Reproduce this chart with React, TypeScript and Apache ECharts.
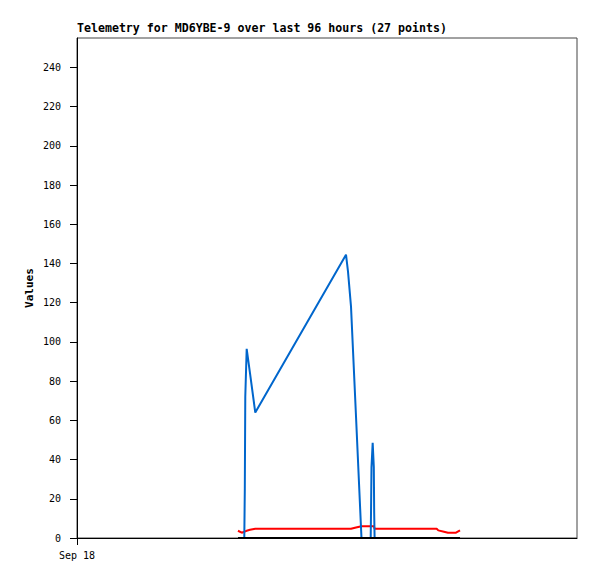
import React, { useEffect, useRef } from "react";
import * as echarts from "echarts";

// time in hours after Sep 18 00:00
const hours = [
  30.91, 31.62, 32.12, 32.22, 32.31, 32.58, 33.22, 34.23, 51.65, 52.03, 52.61, 53.57, 54.62,
  56.39, 56.45, 56.54, 56.77, 56.99, 57.06, 57.14, 62.02, 69.06, 69.37, 70.46, 71.23, 72.77, 73.54,
];
const blueValues = [
  0, 0, 0, 25, 72, 96.5, 84, 64, 144.5, 136, 118, 62, 0,
  0, 12.7, 36, 48.5, 36, 12.7, 0, 0, 0, 0, 0, 0, 0, 0,
];
const redValues = [
  3.7, 2.7, 3.2, 3.3, 3.4, 3.7, 4.2, 4.7, 4.7, 4.7, 4.7, 5.4, 6,
  6, 6, 6, 6, 6, 5.5, 4.7, 4.7, 4.7, 3.9, 3.2, 2.7, 2.7, 3.9,
];
const blackValues = [
  0, 0, 0, 0, 0, 0, 0, 0, 0, 0, 0, 0, 0,
  0, 0, 0, 0, 0, 0, 0, 0, 0, 0, 0, 0, 0, 0,
];
const yTickValues = [0, 20, 40, 60, 80, 100, 120, 140, 160, 180, 200, 220, 240];
const xTickValues = [0];
const xTickLabels = ["Sep 18"];

const titleText = "Telemetry for MD6YBE-9 over last 96 hours (27 points)";
const mono = "'DejaVu Sans Mono', 'Liberation Mono', monospace";

const zip = (vals: number[]) => hours.map((h, i) => [h, vals[i]]);

export default function App() {
  const ref = useRef<HTMLDivElement>(null);
  useEffect(() => {
    if (!ref.current) return;
    const chart = echarts.init(ref.current, null, { renderer: "svg" });
    chart.setOption({
      animation: false,
      backgroundColor: "#ffffff",
      title: {
        text: titleText,
        left: 77,
        top: 22,
        padding: 0,
        textStyle: { fontFamily: mono, fontWeight: "bold", fontSize: 11.6, color: "#000" },
      },
      grid: {
        left: 77,
        top: 38,
        width: 500,
        height: 500,
        show: true,
        borderColor: "#444",
        borderWidth: 1,
        backgroundColor: "transparent",
      },
      xAxis: {
        type: "value",
        min: 0,
        max: 96,
        splitLine: { show: false },
        axisLine: { show: true, lineStyle: { color: "#000", width: 1 } },
        axisTick: { show: true, length: 7, customValues: xTickValues, lineStyle: { color: "#000" } },
        axisLabel: {
          customValues: xTickValues,
          formatter: (v: number) => {
            const i = xTickValues.indexOf(v);
            return i >= 0 ? xTickLabels[i] : "";
          },
          margin: 12,
          fontFamily: mono,
          fontSize: 10,
          color: "#000",
        },
      },
      yAxis: {
        type: "value",
        min: 0,
        max: 255,
        name: "Values",
        nameLocation: "middle",
        nameGap: 42,
        nameMoveOverlap: false,
        nameTextStyle: { fontFamily: mono, fontWeight: "bold", fontSize: 11, color: "#000" },
        splitLine: { show: false },
        axisLine: { show: true, lineStyle: { color: "#000", width: 1 } },
        axisTick: { show: true, length: 7, customValues: yTickValues, lineStyle: { color: "#000" } },
        axisLabel: {
          customValues: yTickValues,
          margin: 16,
          fontFamily: mono,
          fontSize: 10,
          color: "#000",
        },
      },
      series: [
        {
          type: "line",
          data: zip(redValues),
          showSymbol: false,
          symbol: "none",
          z: 2,
          lineStyle: { color: "#ff0000", width: 2 },
          itemStyle: { color: "#ff0000" },
        },
        {
          type: "line",
          data: zip(blueValues),
          showSymbol: false,
          symbol: "none",
          z: 3,
          lineStyle: { color: "#0066cc", width: 2 },
          itemStyle: { color: "#0066cc" },
        },
        {
          type: "line",
          data: zip(blackValues),
          showSymbol: false,
          symbol: "none",
          z: 4,
          lineStyle: { color: "#000000", width: 2 },
          itemStyle: { color: "#000000" },
        },
      ],
    });
    return () => chart.dispose();
  }, []);
  return (
    <div
      ref={ref}
      style={{ position: "fixed", left: 0, top: 0, width: 597, height: 579, background: "#fff" }}
    />
  );
}
